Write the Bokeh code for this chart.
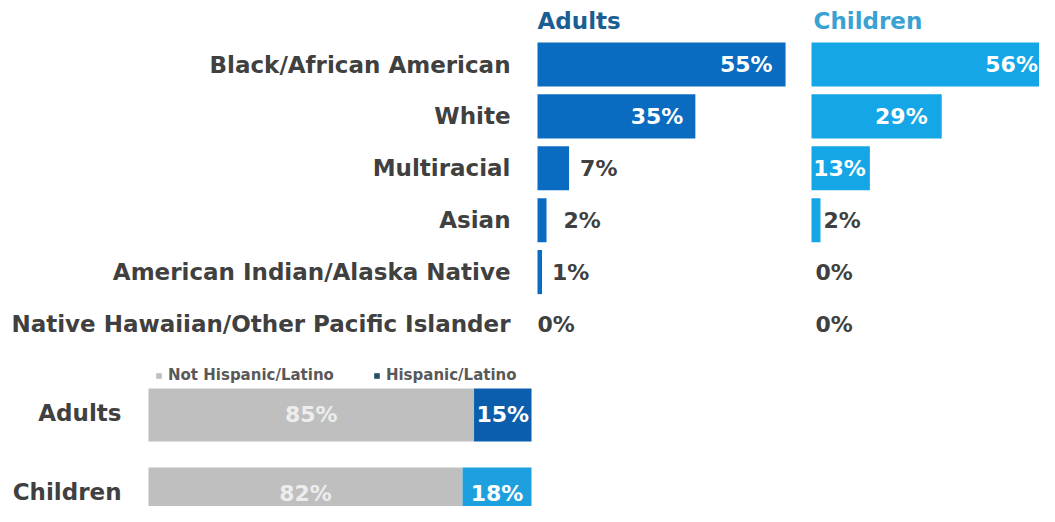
from bokeh.plotting import figure
from bokeh.models import Range1d, ColumnDataSource, Legend, LegendItem
from bokeh.core.properties import value
from bokeh.embed import file_html
from bokeh.resources import INLINE

# ---------------- data ----------------
races = ["Black/African American", "White", "Multiracial", "Asian",
         "American Indian/Alaska Native", "Native Hawaiian/Other Pacific Islander"]
adults_pct = [55, 35, 7, 2, 1, 0]
children_pct = [56, 29, 13, 2, 0, 0]
panel_titles = ["Adults", "Children"]

groups = ["Adults", "Children"]
not_hispanic_pct = [85, 82]
hispanic_pct = [15, 18]
legend_labels = ["Not Hispanic/Latino", "Hispanic/Latino"]

# ---------------- style ----------------
FONT = "DejaVu Sans"
TXT = "#404040"
ADULT_BLUE = "#0A6CC0"
CHILD_BLUE = "#14A6E6"
HISP_COLORS = ["#0B5EAC", "#1DA0DD"]
GRAY = "#BFBFBF"
W, H = 1039, 506

# label x offsets in px (inside labels negative, outside positive)
adults_dx = [-13, -12, 11, 17, 10, 0]
children_dx = [-25, -14, -4, 3, 4, 4]
INSIDE_MIN = 13

p = figure(width=W, height=H, output_backend="svg", toolbar_location=None,
           min_border=0, x_axis_location=None, y_axis_location=None,
           outline_line_color=None, background_fill_color="white")
p.grid.visible = False

# x ranges (percent units) placed within the frame
a0, apx = 537, 4.51
c0, cpx = 811, 4.49
h0, hpx = 148, 3.83
p.x_range = Range1d(-a0 / apx, -a0 / apx + W / apx)
p.extra_x_ranges = {
    "children": Range1d(-c0 / cpx, -c0 / cpx + W / cpx),
    "hisp": Range1d(-h0 / hpx, -h0 / hpx + W / hpx),
}
# y ranges (row index units, top to bottom)
r0, rstep = 64, 51.9
p.y_range = Range1d((H - r0) / rstep, -r0 / rstep)
g0, gstep = 414.5, 79
p.extra_y_ranges = {"hisp": Range1d((H - g0) / gstep, -g0 / gstep)}

rows = list(range(len(races)))


def label_source(vals, dx):
    return ColumnDataSource(dict(
        y=rows, v=vals, lab=[f"{v}%" for v in vals], dx=dx,
        align=["right" if v >= INSIDE_MIN else "left" for v in vals],
        col=["white" if v >= INSIDE_MIN else TXT for v in vals]))


src_a = label_source(adults_pct, adults_dx)
src_c = label_source(children_pct, children_dx)

p.hbar(y="y", left=0, right="v", height=0.85, source=src_a, color=ADULT_BLUE, line_color=None)
p.hbar(y="y", left=0, right="v", height=0.85, source=src_c, color=CHILD_BLUE, line_color=None,
       x_range_name="children")

for src, rn in ((src_a, "default"), (src_c, "children")):
    p.text(x="v", y="y", text="lab", source=src, x_offset="dx", text_align="align",
           text_baseline="middle", text_color="col", text_font=value(FONT),
           text_font_style="bold", text_font_size="22px", x_range_name=rn)

# race labels
p.text(x=[0] * len(races), y=rows, text=races, x_offset=-27, text_align="right",
       text_baseline="middle", text_color=TXT, text_font=value(FONT),
       text_font_style="bold", text_font_size="23px")

# panel headers
hy = (20 - r0) / rstep
p.text(x=[0], y=[hy], text=[panel_titles[0]], text_color="#1B5E93",
       text_font=value(FONT), text_font_style="bold", text_font_size="23px",
       text_baseline="middle")
p.text(x=[0], y=[hy], text=[panel_titles[1]], text_color="#3AA2D2",
       text_font=value(FONT), text_font_style="bold", text_font_size="23px",
       text_baseline="middle", x_range_name="children", x_offset=2)

# ---- Hispanic stacked bars ----
grows = list(range(len(groups)))
src_h = ColumnDataSource(dict(
    y=grows, nh=not_hispanic_pct, h=hispanic_pct,
    end=[a + b for a, b in zip(not_hispanic_pct, hispanic_pct)],
    hcol=HISP_COLORS,
    nh_mid=[a / 2 for a in not_hispanic_pct],
    h_mid=[a + b / 2 for a, b in zip(not_hispanic_pct, hispanic_pct)],
    nh_lab=[f"{v}%" for v in not_hispanic_pct],
    h_lab=[f"{v}%" for v in hispanic_pct]))
p.hbar(y="y", left=0, right="nh", height=0.67, source=src_h, color=GRAY, line_color=None,
       x_range_name="hisp", y_range_name="hisp")
p.hbar(y="y", left="nh", right="end", height=0.67, source=src_h, fill_color="hcol",
       line_color=None, x_range_name="hisp", y_range_name="hisp")
p.text(x="nh_mid", y="y", text="nh_lab", source=src_h, text_align="center", y_offset=-1,
       text_baseline="middle", text_color="#EDEDED", text_font=value(FONT),
       text_font_style="bold", text_font_size="22px", x_range_name="hisp", y_range_name="hisp")
p.text(x="h_mid", y="y", text="h_lab", source=src_h, text_align="center", y_offset=-1,
       text_baseline="middle", text_color="white", text_font=value(FONT),
       text_font_style="bold", text_font_size="22px", x_range_name="hisp", y_range_name="hisp")
p.text(x=[0] * len(groups), y=grows, text=groups, x_offset=-27, y_offset=-2,
       text_align="right", text_baseline="middle", text_color=TXT, text_font=value(FONT),
       text_font_style="bold", text_font_size="23px", x_range_name="hisp", y_range_name="hisp")

# legend (sample boxes placed outside the visible ranges)
r_nh = p.quad(left=[-1000], right=[-999], bottom=[-1000], top=[-999], color=GRAY, line_color=None)
r_h = p.quad(left=[-1000], right=[-999], bottom=[-1000], top=[-999], color="#24506A", line_color=None)
leg = Legend(items=[LegendItem(label=legend_labels[0], renderers=[r_nh]),
                    LegendItem(label=legend_labels[1], renderers=[r_h])],
             orientation="horizontal", location=(155, 122), padding=0, margin=0,
             spacing=39, glyph_width=7, glyph_height=7, label_standoff=6,
             label_text_font=FONT, label_text_font_style="bold", label_text_font_size="15px",
             label_text_color="#595959", label_height=15, background_fill_alpha=0,
             border_line_color=None)
p.add_layout(leg)

open("out.html", "w").write(file_html(p, INLINE))
